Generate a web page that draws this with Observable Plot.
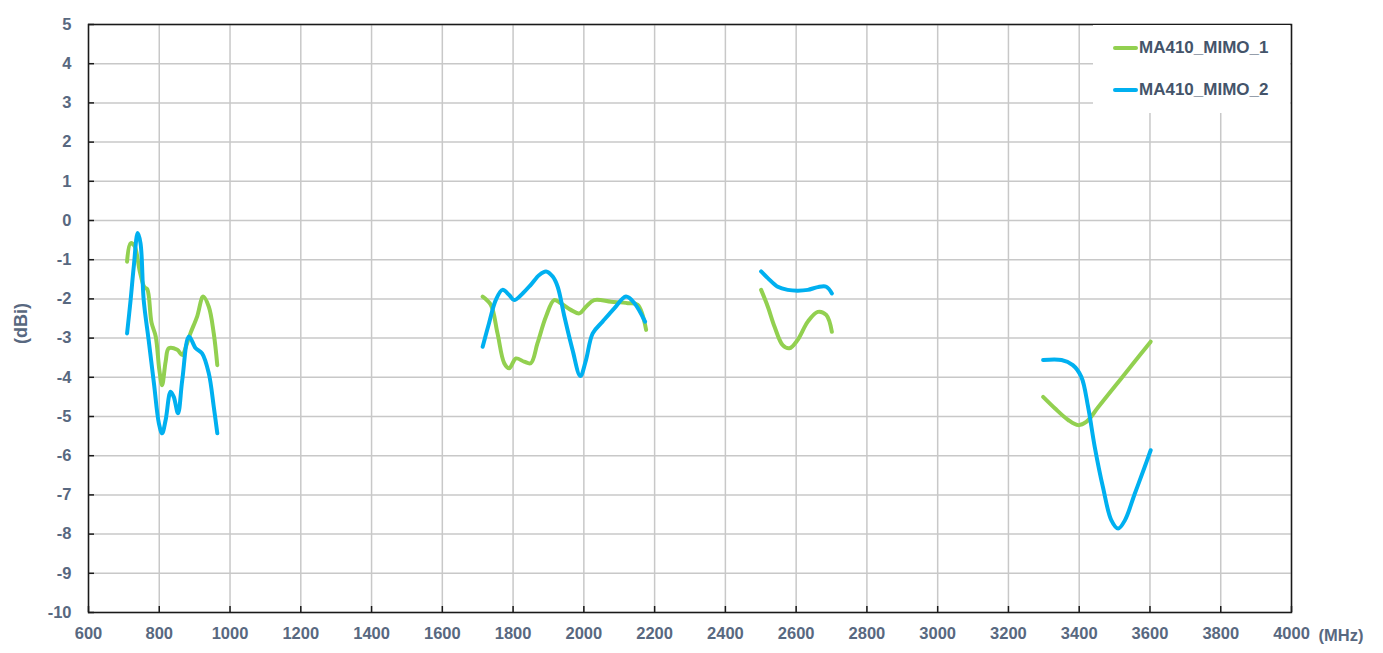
<!DOCTYPE html>
<html>
<head>
<meta charset="utf-8">
<script src="https://cdn.jsdelivr.net/npm/d3@7"></script>
<script src="https://cdn.jsdelivr.net/npm/@observablehq/plot@0.6"></script>
<style>
  html, body { margin: 0; padding: 0; background: #fff; }
  #wrap { position: relative; width: 1383px; height: 653px; }
  #legend { position: absolute; left: 1093px; top: 25px; width: 197px; height: 88px; background: #fff;
            font-family: "Liberation Sans", Arial, sans-serif; font-weight: bold; font-size: 17px; color: #44546a; }
  .item { position: absolute; left: 20px; height: 20px; display: flex; align-items: center; }
  .sw { width: 25px; height: 4px; border-radius: 2px; margin-right: 1px; }
</style>
</head>
<body>
<div id="wrap"><div id="chart"></div><div id="legend"></div></div>
<script>
const seriesNames = ["MA410_MIMO_1", "MA410_MIMO_2"];
const seriesColors = ["#92D050", "#00B0F0"];
const xTicks = [600, 800, 1000, 1200, 1400, 1600, 1800, 2000, 2200, 2400, 2600, 2800, 3000, 3200, 3400, 3600, 3800, 4000];
const yTicks = [-10, -9, -8, -7, -6, -5, -4, -3, -2, -1, 0, 1, 2, 3, 4, 5];

// MA410_MIMO_1 (green)
const m1Band1Freq = [709, 719, 730, 745, 758, 766, 778, 790, 800, 808, 818, 827, 851, 865, 876, 888, 907, 924, 940, 954, 964];
const m1Band1Gain = [-1.05, -0.58, -0.65, -1.3, -1.7, -1.75, -2.6, -2.96, -3.8, -4.2, -3.6, -3.26, -3.3, -3.43, -3.2, -2.88, -2.45, -1.94, -2.2, -2.88, -3.69];
const m1Band2Freq = [1714, 1737, 1756, 1775, 1789, 1808, 1831, 1850, 1869, 1893, 1916, 1935, 1963, 1987, 2006, 2029, 2077, 2124, 2152, 2176];
const m1Band2Gain = [-1.94, -2.15, -2.88, -3.64, -3.77, -3.52, -3.6, -3.64, -3.13, -2.45, -2.03, -2.11, -2.28, -2.37, -2.2, -2.03, -2.07, -2.11, -2.15, -2.79];
const m1Band3Freq = [2501, 2520, 2539, 2562, 2581, 2604, 2633, 2661, 2685, 2701];
const m1Band3Gain = [-1.77, -2.2, -2.71, -3.18, -3.26, -3.05, -2.58, -2.33, -2.41, -2.84];
const m1Band4Freq = [3298, 3331, 3369, 3397, 3420, 3454, 3501, 3548, 3602];
const m1Band4Gain = [-4.5, -4.79, -5.09, -5.22, -5.14, -4.76, -4.23, -3.7, -3.09];

// MA410_MIMO_2 (blue)
const m2Band1Freq = [709, 719, 728, 739, 747, 756, 770, 785, 799, 808, 818, 832, 841, 853, 865, 884, 903, 921, 940, 954, 964];
const m2Band1Gain = [-2.88, -2.03, -1.17, -0.32, -0.58, -2.03, -3.05, -4.16, -5.18, -5.43, -5.09, -4.37, -4.5, -4.92, -4.07, -2.96, -3.26, -3.39, -3.9, -4.75, -5.43];
const m2Band2Freq = [1714, 1732, 1751, 1770, 1789, 1803, 1827, 1850, 1874, 1893, 1912, 1926, 1945, 1968, 1990, 2006, 2025, 2053, 2086, 2119, 2143, 2173];
const m2Band2Gain = [-3.22, -2.62, -2.03, -1.77, -1.9, -2.03, -1.86, -1.64, -1.39, -1.3, -1.43, -1.69, -2.45, -3.3, -3.97, -3.56, -2.88, -2.58, -2.24, -1.94, -2.11, -2.58];
const m2Band3Freq = [2501, 2520, 2548, 2576, 2604, 2633, 2661, 2685, 2701];
const m2Band3Gain = [-1.3, -1.47, -1.69, -1.77, -1.79, -1.77, -1.7, -1.69, -1.86];
const m2Band4Freq = [3298, 3350, 3382, 3406, 3425, 3444, 3467, 3491, 3510, 3529, 3557, 3585, 3602];
const m2Band4Gain = [-3.56, -3.56, -3.69, -3.99, -4.75, -5.78, -6.8, -7.65, -7.86, -7.65, -6.97, -6.29, -5.86];

const segments = [
  [seriesNames[0], "m1b1", m1Band1Freq, m1Band1Gain],
  [seriesNames[0], "m1b2", m1Band2Freq, m1Band2Gain],
  [seriesNames[0], "m1b3", m1Band3Freq, m1Band3Gain],
  [seriesNames[0], "m1b4", m1Band4Freq, m1Band4Gain],
  [seriesNames[1], "m2b1", m2Band1Freq, m2Band1Gain],
  [seriesNames[1], "m2b2", m2Band2Freq, m2Band2Gain],
  [seriesNames[1], "m2b3", m2Band3Freq, m2Band3Gain],
  [seriesNames[1], "m2b4", m2Band4Freq, m2Band4Gain]
];
const data = segments.flatMap(([series, seg, fs, gs]) => fs.map((f, i) => ({series, seg, freq: f, gain: gs[i]})));

const labelColor = "#586880";
const font = "'Liberation Sans', Arial, sans-serif";
const fmt = d => String(d);

const chart = Plot.plot({
  width: 1383,
  height: 653,
  marginLeft: 88,
  marginRight: 92,
  marginTop: 24,
  marginBottom: 41,
  style: {fontFamily: font, fontSize: "16.5px", background: "#fff", overflow: "visible"},
  x: {domain: [600, 4000], ticks: xTicks},
  y: {domain: [-10, 5], ticks: yTicks},
  color: {domain: seriesNames, range: seriesColors},
  marks: [
    Plot.gridX(xTicks, {stroke: "#c8c8c8", strokeOpacity: 1, strokeWidth: 1.5}),
    Plot.gridY(yTicks, {stroke: "#c8c8c8", strokeOpacity: 1, strokeWidth: 1.5}),
    Plot.line(data, {x: "freq", y: "gain", z: "seg", stroke: "series", strokeWidth: 4, curve: "catmull-rom", strokeLinecap: "round", strokeLinejoin: "round"}),
    Plot.frame({stroke: "#1a1a1a", strokeWidth: 1.5}),
    Plot.axisX(xTicks, {tickSize: 6, dy: -6, fill: "none", stroke: "#1a1a1a", strokeWidth: 1.5, label: null}),
    Plot.axisY(yTicks, {tickSize: 6, dx: 6, fill: "none", stroke: "#1a1a1a", strokeWidth: 1.5, label: null}),
    Plot.axisX(xTicks, {tickSize: 0, tickPadding: 15, tickFormat: fmt, fill: labelColor, fontWeight: "bold", label: null}),
    Plot.axisY(yTicks, {tickSize: 0, tickPadding: 17, tickFormat: fmt, fill: labelColor, fontWeight: "bold", label: null}),
    Plot.text(["(dBi)"], {frameAnchor: "left", text: d => d, rotate: -90, dx: -67, dy: 5, textAnchor: "middle", lineAnchor: "middle", fill: labelColor, fontWeight: "bold", fontSize: 18}),
    Plot.text(["(MHz)"], {frameAnchor: "bottom-right", text: d => d, dx: 27, dy: 23, textAnchor: "start", lineAnchor: "middle", fill: labelColor, fontWeight: "bold"})
  ]
});
document.getElementById("chart").appendChild(chart);

const legend = document.getElementById("legend");
seriesNames.forEach((name, i) => {
  const item = document.createElement("div");
  item.className = "item";
  item.style.top = (13 + i * 42) + "px";
  const sw = document.createElement("span");
  sw.className = "sw";
  sw.style.background = seriesColors[i];
  const tx = document.createElement("span");
  tx.textContent = name;
  item.appendChild(sw);
  item.appendChild(tx);
  legend.appendChild(item);
});
</script>
</body>
</html>
